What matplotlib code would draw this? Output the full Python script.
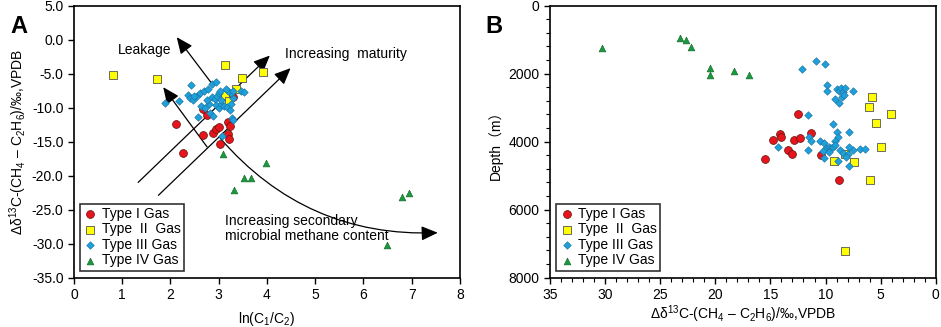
#!/usr/bin/env python3
"""Carbon isotope reversal vs ln(C1/C2) and depth, two panels."""

import matplotlib
matplotlib.use("Agg")
import matplotlib.pyplot as plt
from matplotlib.ticker import MultipleLocator

plt.rcParams["font.family"] = ["Liberation Sans", "DejaVu Sans"]
plt.rcParams["mathtext.fontset"] = "custom"
plt.rcParams["mathtext.rm"] = "Liberation Sans"
plt.rcParams["mathtext.it"] = "Liberation Sans:italic"
plt.rcParams["mathtext.default"] = "regular"

# ---- panel A: ln(C1/C2) vs delta13C(CH4 - C2H6) ----
a_t1_x = [2.12, 2.26, 2.67, 2.68, 2.75, 2.89, 2.94, 3.00, 3.03, 3.20, 3.23, 3.20, 3.21, 3.29]
a_t1_y = [-12.35, -16.7, -14.0, -10.2, -11.1, -13.8, -13.2, -12.8, -15.3, -12.1, -12.7, -13.9, -14.6, -8.4]

a_t2_x = [0.80, 1.73, 3.14, 3.48, 3.92, 3.36, 3.12, 3.21]
a_t2_y = [-5.2, -5.83, -3.8, -5.7, -4.7, -7.2, -8.1, -9.0]

a_t3_x = [1.88, 2.18, 2.42, 2.37, 2.41, 2.47, 2.54, 2.61, 2.69, 2.78, 2.86, 2.94,
          2.57, 2.63, 2.71, 2.82, 2.89, 2.80, 2.87, 2.92, 2.97, 3.00, 3.03, 2.94,
          3.00, 3.05, 3.11, 3.18, 3.23, 3.26, 3.30, 3.25, 3.19, 3.30, 3.47, 3.52,
          3.27, 3.29, 3.07, 3.16, 3.04, 2.75, 2.49]
a_t3_y = [-9.3, -9.1, -6.7, -8.1, -8.6, -8.9, -8.3, -7.9, -7.5, -7.2, -6.5, -6.2,
          -11.4, -9.8, -10.1, -10.8, -11.3, -9.5, -8.5, -8.7, -8.3, -7.8, -7.5, -9.6,
          -10.0, -9.4, -9.7, -9.9, -10.3, -9.5, -8.6, -7.8, -7.6, -7.5, -7.5, -7.7,
          -11.5, -11.8, -14.2, -7.2, -8.9, -8.9, -8.3]

a_t4_x = [3.09, 3.99, 3.53, 3.67, 3.32, 6.80, 6.94, 6.49]
a_t4_y = [-16.8, -18.2, -20.3, -20.4, -22.1, -23.1, -22.6, -30.2]

# ---- panel B: delta13C(CH4 - C2H6) vs depth ----
b_t1_x = [12.53, 11.32, 14.16, 14.0, 14.8, 12.9, 12.3, 13.4, 13.0, 15.5, 10.44, 8.75]
b_t1_y = [3196, 3755, 3775, 3853, 3951, 3941, 3902, 4255, 4363, 4510, 4392, 5118]

b_t2_x = [5.75, 6.05, 4.03, 5.42, 4.93, 8.26, 9.23, 7.38, 5.93, 8.23]
b_t2_y = [2676, 2990, 3196, 3441, 4157, 4353, 4569, 4588, 5118, 7206]

b_t3_x = [10.9, 10.07, 12.1, 9.9, 9.9, 8.99, 8.75, 8.56, 8.38, 8.26, 7.47, 9.17,
          8.8, 8.5, 8.3, 11.6, 9.3, 9.0, 7.9, 8.9, 9.1, 11.5, 11.35, 10.5,
          10.1, 9.95, 10.26, 9.65, 9.5, 9.3, 9.1, 10.14, 9.65, 11.56, 14.3,
          8.7, 8.4, 7.96, 7.54, 7.84, 6.9, 6.45, 7.87, 8.1, 8.9]
b_t3_y = [1627, 1725, 1873, 2343, 2500, 2441, 2500, 2422, 2539, 2431, 2500, 2755,
          2853, 2676, 2627, 3225, 3490, 3716, 3725, 3873, 3971, 3853, 3971, 3990,
          4029, 4196, 4275, 4147, 4196, 4157, 4108, 4490, 4294, 4235, 4167,
          4245, 4343, 4373, 4235, 4157, 4225, 4225, 4716, 4441, 4569]

b_t4_x = [30.3, 23.2, 22.7, 22.2, 20.5, 20.45, 18.3, 16.9]
b_t4_y = [1235, 961, 1020, 1206, 1843, 2049, 1922, 2049]

labels = ["Type I Gas", "Type  II  Gas", "Type III Gas", "Type IV Gas"]

STYLES = [
    dict(marker="o", s=32, color="#e8141c", edgecolors="#5a1010", linewidths=0.5),
    dict(marker="s", s=32, color="#ffff00", edgecolors="#555555", linewidths=0.6),
    dict(marker="D", s=15, color="#1ea0dc", edgecolors="#1d6f99", linewidths=0.4),
    dict(marker="^", s=24, color="#1a9a3c", edgecolors="#0f5f25", linewidths=0.4),
]

ylab = r"$\Delta\delta^{13}$C-(CH$_4$ – C$_2$H$_6$)/‰,VPDB"


def style_axes(ax):
    for sp in ax.spines.values():
        sp.set_linewidth(1.2)
    ax.tick_params(direction="out", length=4, width=1.0, labelsize=10)
    ax.tick_params(which="minor", direction="out", length=3, width=0.8)


def add_legend(ax):
    leg = ax.legend(loc="lower left", bbox_to_anchor=(0.005, 0.01), fontsize=10,
                    fancybox=False, framealpha=1, edgecolor="#333333",
                    handletextpad=0.3, borderpad=0.25, labelspacing=0.1,
                    handlelength=1.0, borderaxespad=0.3)
    leg.get_frame().set_linewidth(1.2)


fig = plt.figure(figsize=(9.41, 3.27), dpi=100)
axA = fig.add_axes([0.0786, 0.151, 0.4102, 0.832])
axB = fig.add_axes([0.5845, 0.151, 0.4099, 0.832])

# panel A
for xs, ys, lab, st in zip([a_t1_x, a_t2_x, a_t3_x, a_t4_x],
                           [a_t1_y, a_t2_y, a_t3_y, a_t4_y], labels, STYLES):
    axA.scatter(xs, ys, label=lab, zorder=3, **st)

arrow = dict(arrowstyle="-|>,head_length=0.5,head_width=0.22", color="black",
             lw=0.9, mutation_scale=20, shrinkA=0, shrinkB=0)
axA.annotate("", xy=(2.13, 0.35), xytext=(2.85, -6.4), arrowprops=arrow, zorder=2)
axA.annotate("", xy=(1.85, -7.0), xytext=(2.76, -15.8), arrowprops=arrow, zorder=2)
axA.annotate("", xy=(4.06, -2.35), xytext=(1.33, -21.0), arrowprops=arrow, zorder=2)
axA.annotate("", xy=(4.49, -4.2), xytext=(1.75, -22.9), arrowprops=arrow, zorder=2)
axA.annotate("", xy=(7.54, -28.4), xytext=(3.03, -14.5),
             arrowprops=dict(arrow, connectionstyle="arc3,rad=0.24"), zorder=2)

axA.text(0.9, -1.5, "Leakage", fontsize=10, va="center")
axA.text(4.37, -2.15, "Increasing  maturity", fontsize=10, va="center")
axA.text(3.14, -27.8, "Increasing secondary\nmicrobial methane content",
         fontsize=10, va="center", linespacing=1.1)

axA.set_xlim(0, 8)
axA.set_ylim(-35, 5)
axA.xaxis.set_major_locator(MultipleLocator(1))
axA.yaxis.set_major_locator(MultipleLocator(5))
axA.yaxis.set_major_formatter(plt.FormatStrFormatter("%.1f"))
axA.set_xlabel("ln(C$_1$/C$_2$)", fontsize=10, labelpad=6)
axA.set_ylabel(ylab, fontsize=10, labelpad=2)
style_axes(axA)
add_legend(axA)

# panel B
for xs, ys, lab, st in zip([b_t1_x, b_t2_x, b_t3_x, b_t4_x],
                           [b_t1_y, b_t2_y, b_t3_y, b_t4_y], labels, STYLES):
    axB.scatter(xs, ys, label=lab, zorder=3, **st)

axB.set_xlim(35, 0)
axB.set_ylim(8000, 0)
axB.xaxis.set_major_locator(MultipleLocator(5))
axB.xaxis.set_minor_locator(MultipleLocator(1))
axB.yaxis.set_major_locator(MultipleLocator(2000))
axB.yaxis.set_minor_locator(MultipleLocator(400))
axB.set_xlabel(ylab, fontsize=10, labelpad=1)
axB.set_ylabel("Depth（m）", fontsize=10, labelpad=4,
               family=["Liberation Sans", "Noto Sans CJK SC", "DejaVu Sans"])
style_axes(axB)
add_legend(axB)

fig.text(0.011, 0.955, "A", fontsize=17, fontweight="bold", va="top")
fig.text(0.516, 0.955, "B", fontsize=17, fontweight="bold", va="top")

fig.savefig("out.png", dpi=100)
